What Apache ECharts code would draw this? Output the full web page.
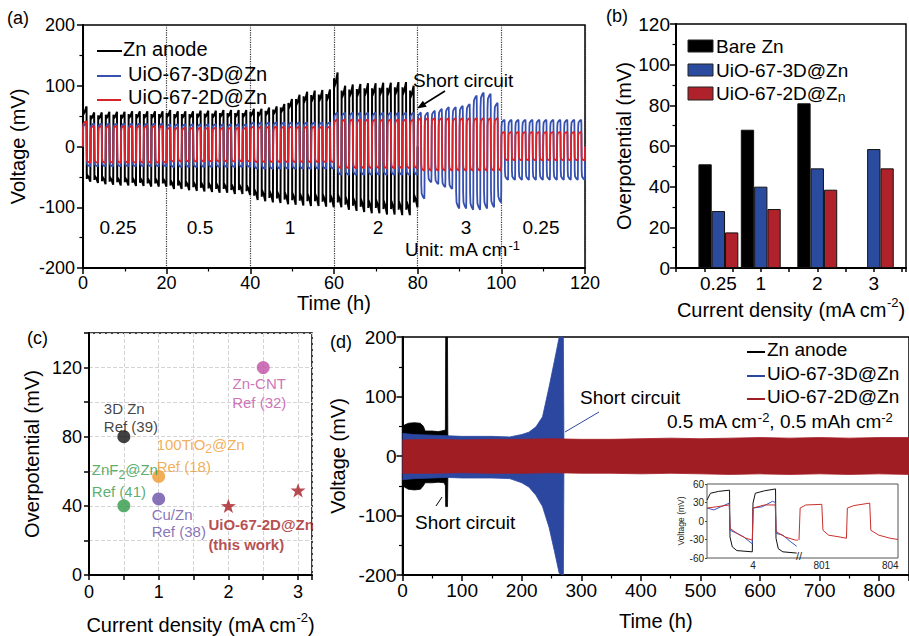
<!DOCTYPE html>
<html><head><meta charset="utf-8">
<script src="https://cdn.jsdelivr.net/npm/echarts@6/dist/echarts.min.js"></script>
<style>html,body{margin:0;padding:0;background:#fff}#c{width:909px;height:636px}</style>
</head><body><div id="c"></div>
<script>
const FONT = "'Liberation Sans', Arial, Helvetica, sans-serif";

// ===================== DATA =====================
// (a) rate performance: segments (h) and current densities
const aSegStart = [0, 20, 40, 60, 80, 100];
const aSegLabels = ['0.25', '0.5', '1', '2', '3', '0.25'];
const aCycles = [11, 11, 11, 11, 12, 12];
// per-cycle peak voltages (mV)
const aZnTop = [
  [66, 56, 56, 57, 57, 57, 58, 58, 58, 58, 58],
  [60, 58, 58, 58, 59, 59, 59, 60, 60, 60, 60],
  [62, 62, 64, 66, 70, 78, 85, 90, 92, 93, 94],
  [122, 100, 102, 103, 104, 104, 105, 105, 106, 106, 100]
];
const aZnBot = [
  [-58, -60, -62, -63, -64, -64, -65, -65, -66, -66, -66],
  [-70, -70, -72, -73, -74, -75, -76, -76, -78, -78, -80],
  [-88, -90, -92, -93, -95, -96, -97, -98, -98, -99, -100],
  [-100, -104, -106, -108, -110, -110, -112, -112, -113, -113, -100]
];
const a3DTop = [38, 37, 40, 56, [56, 56, 59, 62, 65, 65, 67, 70, 84, 89, 87, 72], 44];
const a3DBot = [-33, -34, -37, -47, [-86, -59, -62, -67, -70, -102, -102, -104, -104, -102, -100, -92], -55];
const a2DTop = [[42, 34, 34, 34, 34, 34, 34, 34, 34, 34, 34], 31, 33, 45, 47, 24];
const a2DBot = [-27, -25, -26, -36, -40, -23];
// typical half-cycle profile shapes: [fraction of half cycle, fraction of peak]
const znShape = [[0, 0], [0.015, 0.92], [0.09, 0.8], [0.5, 0.87], [0.95, 1], [1, 0]];
const mofShape = [[0, 0], [0.04, 0.72], [0.15, 0.9], [0.5, 0.96], [0.92, 1], [0.97, 0.8], [1, 0]];

// (b) overpotential bars
const bCurrent = [0.25, 1, 2, 3];
const bBareZn = [51, 68, 81, null];
const b3D = [28, 40, 49, 58.5];
const b2D = [17.5, 29, 38.5, 49];

// (c) comparison with literature
const cX = [0.5, 2.5, 1, 0.5, 1];
const cY = [80, 120, 57, 40, 44];
const cLabels = ['3D Zn\nRef (39)', 'Zn-CNT\nRef (32)', '100TiO{sub|2}@Zn\nRef (18)', 'ZnF{sub|2}@Zn\nRef (41)', 'Cu/Zn\nRef (38)'];
const cThisX = [2, 3];
const cThisY = [40, 49];

// (d) long-term cycling envelopes (mV)
const dZnT = [0, 3, 10, 20, 30, 35, 38, 50, 60, 70, 72, 72.5, 75.5, 76, 76.5];
const dZnTop = [45, 52, 55, 56, 55, 50, 42, 42, 41, 43, 45, 200, 200, 45, 0];
const dZnBot = [-45, -52, -56, -57, -56, -50, -45, -45, -44, -45, -50, -85, -85, -45, 0];
const d3DT = [0, 20, 50, 75, 100, 150, 180, 200, 212, 224, 235, 246, 255, 263, 270, 271];
const d3DTop = [38, 36, 35, 34, 33, 33, 32, 36, 40, 49, 66, 116, 160, 200, 200, 0];
const d3DBot = [-40, -38, -37, -36, -37, -37, -38, -45, -52, -66, -85, -120, -160, -197, -200, 0];
const d2DT = [0, 50, 100, 150, 200, 250, 300, 350, 400, 450, 500, 550, 600, 650, 700, 750, 800, 850];
const d2DTop = [27, 28, 27, 28, 28, 29, 28, 28, 29, 30, 29, 30, 31, 30, 31, 30, 31, 31];
const d2DBot = [-29, -29, -28, -29, -29, -28, -29, -29, -30, -29, -30, -31, -30, -31, -30, -31, -30, -31];
// inset profiles
const iZnT = [2, 2.15, 2.5, 2.98, 3.0, 3.1, 3.3, 3.97, 4.0, 4.1, 4.5, 4.98, 5.0, 5.1, 5.3, 5.9];
const iZnV = [34, 45, 48, 50, -26, -42, -48, -50, 29, 45, 49, 52, -28, -45, -50, -52];
const i3DT = [2, 2.3, 2.6, 2.97, 3.0, 3.3, 3.6, 3.97, 4.0, 4.4, 4.85, 4.97, 5.0, 5.3, 5.65, 5.9];
const i3DV = [21, 18, 23, 29, -15, -20, -26, -37, 21, 23, 32, 30, -20, -23, -34, -41];
const i2DT = [2, 2.4, 2.97, 3.0, 3.3, 3.7, 3.97, 4.0, 4.5, 4.97, 5.0, 5.4, 5.85, 5.95];
const i2DV = [21, 23, 26, -12, -20, -28, -31, 21, 26, 26, -17, -26, -31, -31];
const i2DRT = [800, 800.05, 800.3, 801.0, 801.05, 801.3, 801.8, 802.08, 802.12, 802.4, 803.1, 803.15, 803.5, 804.0, 804.34];
const i2DRV = [-31, 21, 26, 27, -15, -23, -26, -28, 21, 25, 29, -15, -23, -28, -30];

// ===================== BUILD =====================
function pick(arr, s, k) { return Array.isArray(arr[s]) ? arr[s][k] : arr[s]; }
function profile(tops, bots, shape, nSeg) {
  const pts = [];
  for (let s = 0; s < nSeg; s++) {
    const n = aCycles[s], T = 20 / n;
    for (let k = 0; k < n; k++) {
      const t0 = aSegStart[s] + k * T;
      const top = pick(tops, s, k), bot = pick(bots, s, k);
      shape.forEach(p => pts.push([t0 + p[0] * T / 2, p[1] * top]));
      shape.forEach(p => pts.push([t0 + T / 2 + p[0] * T / 2, p[1] * bot]));
    }
  }
  return pts;
}
const zip = (t, v) => t.map((x, i) => [x, v[i]]);

function merge(a, b) {
  const o = Object.assign({}, a);
  for (const k in b) {
    if (b[k] && typeof b[k] === 'object' && !Array.isArray(b[k]) && o[k] && typeof o[k] === 'object' && !Array.isArray(o[k])) o[k] = merge(o[k], b[k]);
    else o[k] = b[k];
  }
  return o;
}
const supRich = {
  sup: {fontSize: 13, verticalAlign: 'top', fontFamily: FONT, color: '#000', lineHeight: 13},
  main: {fontSize: 20, fontFamily: FONT, color: '#000', lineHeight: 28}
};
const baseAxis = {
  type: 'value',
  axisLine: {show: true, onZero: false, lineStyle: {color: '#000', width: 2}},
  axisTick: {show: true, inside: false, length: 6, lineStyle: {color: '#000', width: 1.5}},
  minorTick: {show: false},
  axisLabel: {color: '#000', fontSize: 18, fontFamily: FONT, margin: 6},
  splitLine: {show: false},
  nameLocation: 'middle',
  nameTextStyle: {color: '#000', fontSize: 20, fontFamily: FONT}
};
const minor = {show: true, splitNumber: 2, length: 3.5, lineStyle: {color: '#000', width: 1.2}};
const ax = o => merge(baseAxis, o);

const cColors = ['#111111', '#c24fa6', '#ee9a2e', '#2f9a48', '#6a4fa8'];
const cLab = [
  {align: 'left', verticalAlign: 'bottom', offset: [-20, -1], lineHeight: 18},
  {align: 'center', verticalAlign: 'top', offset: [-4, 6], lineHeight: 19},
  {align: 'left', verticalAlign: 'bottom', offset: [-2, 1], lineHeight: 22},
  {align: 'left', verticalAlign: 'bottom', offset: [-32, -3], lineHeight: 22},
  {align: 'left', verticalAlign: 'top', offset: [-7, 7], lineHeight: 17}
];
const starPath = 'path://M0,-10 L2.35,-3.24 9.51,-3.09 3.8,1.24 5.88,8.09 0,4 -5.88,8.09 -3.8,1.24 -9.51,-3.09 -2.35,-3.24 Z';

const A_BLK = '#000', A_BLU = '#3650b0', A_RED = '#d8232a';
const B_BLU = '#2b4c9e', B_RED = '#b0222b';
const D_BLU = '#2c47a0', D_RED = '#a11d24';

const lineS = (xi, data, color, w, z) => ({type: 'line', xAxisIndex: xi, yAxisIndex: xi, data, symbol: 'none', lineStyle: {color, width: w}, z: z || 2, animation: false, silent: true});
const areaS = (xi, data, color, z) => ({type: 'line', xAxisIndex: xi, yAxisIndex: xi, data, symbol: 'none', lineStyle: {color, width: 0.8}, areaStyle: {color, opacity: 1}, z, animation: false, silent: true});

const option = {
  animation: false,
  backgroundColor: '#fff',
  textStyle: {fontFamily: FONT},
  grid: [
    {left: 80, top: 25, width: 505, height: 243, show: true, borderColor: '#000', borderWidth: 1.5},
    {left: 676, top: 24, width: 230, height: 244, show: true, borderColor: '#000', borderWidth: 1.5},
    {left: 89, top: 333, width: 223, height: 243, show: true, borderColor: '#000', borderWidth: 1.5},
    {left: 402.5, top: 337, width: 510.3, height: 238, show: true, borderColor: '#000', borderWidth: 1.5},
    {left: 707, top: 484, width: 191, height: 74, show: true, borderColor: '#555', borderWidth: 1},
    {left: 707, top: 484, width: 92, height: 74},
    {left: 799, top: 484, width: 99, height: 74}
  ],
  xAxis: [
    ax({gridIndex: 0, min: 0, max: 120, interval: 20, minorTick: minor, name: 'Time (h)', nameGap: 22,
        splitLine: {show: true, lineStyle: {type: 'dotted', color: '#333', width: 1.2}}}),
    ax({gridIndex: 1, min: -0.5, max: 3.57, interval: 0.5, axisTick: {length: 4},
        axisLabel: {customValues: bCurrent, fontSize: 19},
        name: 'Current density {main|(mA cm}{sup|-2}{main|)}', nameGap: 28,
        nameTextStyle: {rich: supRich}}),
    ax({gridIndex: 2, min: 0, max: 3.2, interval: 0.5, axisTick: {length: 5},
        axisLabel: {customValues: [0, 1, 2, 3], margin: 8},
        splitLine: {show: true, lineStyle: {type: 'dashed', color: '#d4d4d4', width: 1}},
        name: 'Current density {main|(mA cm}{sup|-2}{main|)}', nameGap: 36,
        nameTextStyle: {rich: supRich}}),
    ax({gridIndex: 3, min: 0, max: 850, interval: 100, minorTick: minor,
        axisLabel: {fontSize: 19, showMaxLabel: false}, name: 'Time (h)', nameGap: 36}),
    {gridIndex: 4, type: 'value', show: false, min: 0, max: 1},
    {gridIndex: 5, type: 'value', min: 2, max: 6, axisLine: {show: false}, splitLine: {show: false},
        axisTick: {show: false},
        axisLabel: {customValues: [4], fontSize: 10, color: '#222', margin: 2, fontFamily: FONT}},
    {gridIndex: 6, type: 'value', min: 800, max: 804.34, axisLine: {show: false}, splitLine: {show: false},
        axisTick: {show: false},
        axisLabel: {customValues: [801, 804], fontSize: 10, color: '#222', margin: 2, fontFamily: FONT}}
  ],
  yAxis: [
    ax({gridIndex: 0, min: -200, max: 200, interval: 100, minorTick: minor, axisLabel: {margin: 8},
        name: 'Voltage (mV)', nameGap: 43}),
    ax({gridIndex: 1, min: 0, max: 120, interval: 20, minorTick: minor, axisLabel: {fontSize: 19},
        name: 'Overpotential (mV)', nameGap: 42}),
    ax({gridIndex: 2, min: 0, max: 140, interval: 20, axisTick: {length: 5},
        axisLabel: {customValues: [0, 40, 80, 120], margin: 7},
        splitLine: {show: true, lineStyle: {type: 'dashed', color: '#d4d4d4', width: 1}},
        name: 'Overpotential (mV)', nameGap: 47}),
    ax({gridIndex: 3, min: -200, max: 200, interval: 100, minorTick: minor, axisLabel: {fontSize: 19},
        name: 'Voltage (mV)', nameGap: 52}),
    {gridIndex: 4, type: 'value', show: false, min: 0, max: 1},
    {gridIndex: 5, type: 'value', min: -60, max: 60, interval: 30, axisLine: {show: false},
        splitLine: {show: false}, axisTick: {show: true, length: 2, lineStyle: {color: '#444'}},
        axisLabel: {fontSize: 10, color: '#222', margin: 3, fontFamily: FONT},
        name: 'Voltage (mV)', nameLocation: 'middle', nameGap: 17,
        nameTextStyle: {fontSize: 8.5, color: '#222', fontFamily: FONT}},
    {gridIndex: 6, type: 'value', min: -60, max: 60, show: false}
  ],
  series: [
    // (a)
    lineS(0, profile(aZnTop, aZnBot, znShape, 4), A_BLK, 2, 2),
    lineS(0, profile(a3DTop, a3DBot, mofShape, 6), A_BLU, 1.8, 3),
    lineS(0, profile(a2DTop, a2DBot, mofShape, 6), A_RED, 1.8, 4),
    // (b)
    {type: 'bar', xAxisIndex: 1, yAxisIndex: 1, name: 'Bare Zn', barWidth: 13.3, barGap: '0%',
      data: bCurrent.map((x, i) => [x, bBareZn[i]]).filter(d => d[1] != null),
      itemStyle: {color: '#000', borderColor: '#111', borderWidth: 1}},
    {type: 'bar', xAxisIndex: 1, yAxisIndex: 1, name: 'UiO-67-3D@Zn', barWidth: 13.3, barGap: '0%',
      data: zip(bCurrent, b3D), itemStyle: {color: B_BLU, borderColor: '#111', borderWidth: 1}},
    {type: 'bar', xAxisIndex: 1, yAxisIndex: 1, name: 'UiO-67-2D@Zn', barWidth: 13.3, barGap: '0%',
      data: zip(bCurrent, b2D), itemStyle: {color: B_RED, borderColor: '#111', borderWidth: 1}},
    // (c)
    {type: 'scatter', xAxisIndex: 2, yAxisIndex: 2, symbolSize: 13, z: 5,
      data: cX.map((x, i) => ({value: [x, cY[i]], itemStyle: {color: cColors[i]},
        label: Object.assign({show: true, position: 'inside', formatter: cLabels[i], color: cColors[i],
          fontSize: 15, fontFamily: FONT,
          rich: {sub: {fontSize: 12, verticalAlign: 'bottom', color: cColors[i], fontFamily: FONT}}}, cLab[i])}))},
    {type: 'scatter', xAxisIndex: 2, yAxisIndex: 2, symbol: starPath, symbolKeepAspect: true, symbolSize: 15, z: 5,
      itemStyle: {color: '#a51e24'},
      data: cThisX.map((x, i) => ({value: [x, cThisY[i]],
        label: i === 0 ? {show: true, position: 'inside', formatter: 'UiO-67-2D@Zn\n(this work)', color: '#a51e24',
          fontSize: 15, fontWeight: 'bold', fontFamily: FONT, align: 'left', verticalAlign: 'top', offset: [-20, 9], lineHeight: 20} : {show: false}}))},
    // (d)
    areaS(3, zip(dZnT, dZnTop), '#000', 2),
    areaS(3, zip(dZnT, dZnBot), '#000', 2),
    areaS(3, zip(d3DT, d3DTop), D_BLU, 3),
    areaS(3, zip(d3DT, d3DBot), D_BLU, 3),
    areaS(3, zip(d2DT, d2DTop), D_RED, 4),
    areaS(3, zip(d2DT, d2DBot), D_RED, 4),
    // inset
    lineS(5, zip(iZnT, iZnV), '#111', 1, 6),
    lineS(5, zip(i3DT, i3DV), '#3a55c0', 1, 7),
    lineS(5, zip(i2DT, i2DV), '#c9302c', 1, 8),
    lineS(6, zip(i2DRT, i2DRV), '#c9302c', 1, 8)
  ],
  graphic: {elements: []}
};

// ---------- annotations / legends ----------
const G = option.graphic.elements;
const txt = (x, y, text, size, extra) => G.push(Object.assign({type: 'text', x, y, z: 100,
  style: Object.assign({text, fill: '#000', fontSize: size, fontFamily: FONT, align: 'left', verticalAlign: 'middle'}, extra || {})}));
const seg = (x1, y1, x2, y2, color, w) => G.push({type: 'line', z: 100, shape: {x1, y1, x2, y2}, style: {stroke: color, lineWidth: w}});
const box = (x, y, w, h, color) => G.push({type: 'rect', z: 100, shape: {x, y, width: w, height: h}, style: {fill: color, stroke: '#222', lineWidth: 1}});
const richSup = {sup: {fontSize: 13, verticalAlign: 'top', fontFamily: FONT, fill: '#000', lineHeight: 12},
                 m: {fontSize: 19, fontFamily: FONT, fill: '#000', lineHeight: 20}};

// panel letters
txt(7, 18, '(a)', 18); txt(606, 16, '(b)', 18); txt(27, 338, '(c)', 18); txt(330, 342, '(d)', 18);

// (a) legend
seg(97, 51, 122, 51, A_BLK, 2); txt(123, 49, 'Zn anode', 20);
seg(97, 76, 121, 76, A_BLU, 2); txt(128, 74, 'UiO-67-3D@Zn', 20);
seg(97, 100, 121, 100, A_RED, 2); txt(128, 97, 'UiO-67-2D@Zn', 20);
// (a) segment labels
const segX = [118, 200, 290, 378, 466, 541];
aSegLabels.forEach((s, i) => txt(segX[i], 227, s, 19, {align: 'center'}));
txt(405, 249, '{m|Unit: mA cm}{sup|-1}', 19, {rich: richSup});
txt(413, 80, 'Short circuit', 19);
G.push({type: 'polyline', z: 100, shape: {points: [[445, 91], [421, 106]]}, style: {stroke: '#000', lineWidth: 1.5, fill: null}});
G.push({type: 'polygon', z: 100, shape: {points: [[417, 108.5], [426.7, 106.7], [422.9, 100.7]]}, style: {fill: '#000'}});

// (b) legend
box(688, 40, 25, 12, '#000'); txt(716, 46, 'Bare Zn', 19);
box(688, 64, 25, 12, B_BLU); txt(716, 70, 'UiO-67-3D@Zn', 19);
box(688, 87, 25, 13, B_RED);
txt(716, 93, '{m|UiO-67-2D@Z}{s|n}', 19, {rich: {m: {fontSize: 19, fontFamily: FONT, fill: '#000', lineHeight: 22},
  s: {fontSize: 14, verticalAlign: 'bottom', fontFamily: FONT, fill: '#000', lineHeight: 16}}});

// (d) legend & notes
seg(747, 352, 765, 352, '#000', 2); txt(767, 349, 'Zn anode', 19);
seg(747, 376, 765, 376, D_BLU, 2); txt(767, 373, 'UiO-67-3D@Zn', 19);
seg(747, 399, 765, 399, D_RED, 2); txt(767, 396, 'UiO-67-2D@Zn', 19);
txt(667, 421, '{m|0.5 mA cm}{sup|-2}{m|, 0.5 mAh cm}{sup|-2}', 19, {rich: richSup});
txt(580, 397, 'Short circuit', 19);
seg(565, 432, 599, 412, D_BLU, 1);
txt(415, 522, 'Short circuit', 19);
seg(436, 506, 442, 497, '#000', 1);
txt(799, 556, '//', 11, {align: 'center', fill: '#222'});

const chart = echarts.init(document.getElementById('c'), null, {renderer: 'svg', width: 909, height: 636});
chart.setOption(option);
</script></body></html>
